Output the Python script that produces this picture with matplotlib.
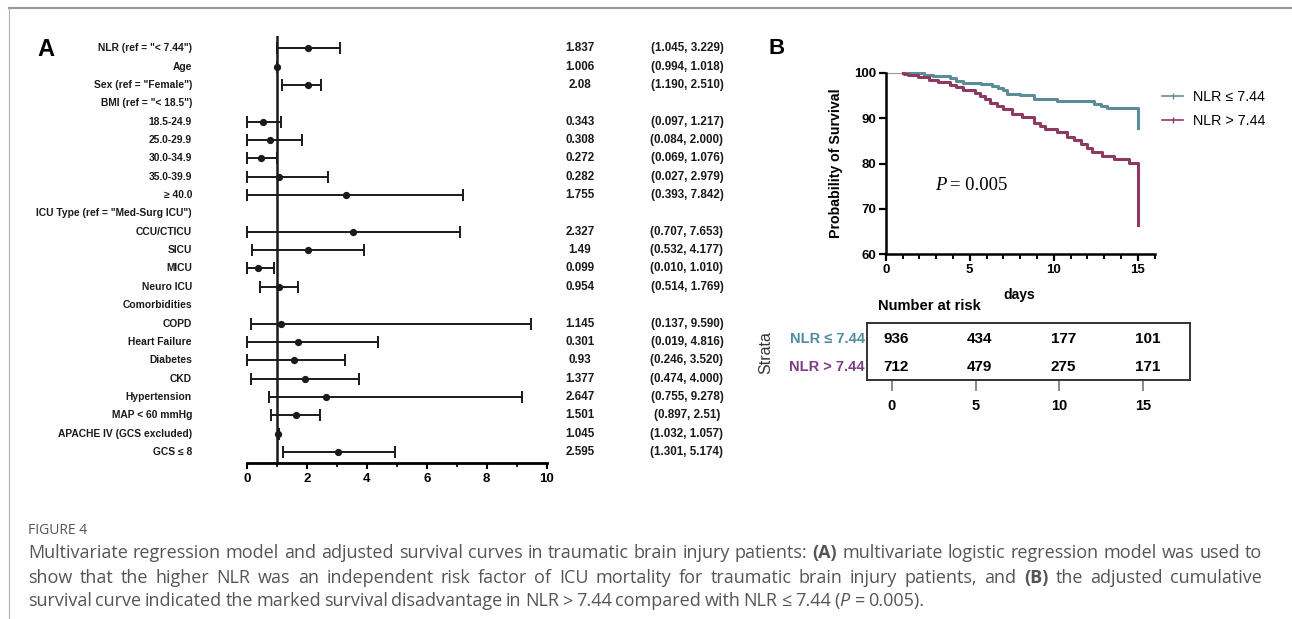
import numpy as np
import matplotlib
matplotlib.use("Agg")
import matplotlib.pyplot as plt
from matplotlib.lines import Line2D
from matplotlib.transforms import blended_transform_factory

W, H = 1292, 619

# Panel A - forest plot (None = header row)
labels = [
    'NLR (ref = "< 7.44")', "Age", 'Sex (ref = "Female")', 'BMI (ref = "< 18.5")',
    "18.5-24.9", "25.0-29.9", "30.0-34.9", "35.0-39.9", "≥ 40.0",
    'ICU Type (ref = "Med-Surg ICU")', "CCU/CTICU", "SICU", "MICU", "Neuro ICU",
    "Comorbidities", "COPD", "Heart Failure", "Diabetes", "CKD", "Hypertension",
    "MAP < 60 mmHg", "APACHE IV (GCS excluded)", "GCS ≤ 8",
]
or_text = [
    "1.837", "1.006", "2.08", "", "0.343", "0.308", "0.272", "0.282", "1.755",
    "", "2.327", "1.49", "0.099", "0.954", "", "1.145", "0.301", "0.93",
    "1.377", "2.647", "1.501", "1.045", "2.595",
]
ci_text = [
    "(1.045, 3.229)", "(0.994, 1.018)", "(1.190, 2.510)", "", "(0.097, 1.217)",
    "(0.084, 2.000)", "(0.069, 1.076)", "(0.027, 2.979)", "(0.393, 7.842)", "",
    "(0.707, 7.653)", "(0.532, 4.177)", "(0.010, 1.010)", "(0.514, 1.769)", "",
    "(0.137, 9.590)", "(0.019, 4.816)", "(0.246, 3.520)", "(0.474, 4.000)",
    "(0.755, 9.278)", "(0.897, 2.51)", "(1.032, 1.057)", "(1.301, 5.174)",
]
# positions of the drawn marks
point = [2.05, 1.0, 2.05, None, 0.55, 0.79, 0.48, 1.09, 3.3, None, 3.53, 2.05,
         0.39, 1.08, None, 1.14, 1.7, 1.56, 1.93, 2.63, 1.63, 1.04, 3.05]
ci_lo = [1.01, 0.994, 1.19, None, 0, 0, 0, 0, 0, None, 0, 0.19,
         0, 0.45, None, 0.14, 0, 0, 0.13, 0.75, 0.82, 1.03, 1.2]
ci_hi = [3.12, 1.018, 2.49, None, 1.13, 1.83, 1.0, 2.71, 7.21, None, 7.11, 3.92,
         0.92, 1.71, None, 9.48, 4.37, 3.28, 3.74, 9.17, 2.43, 1.06, 4.95]

# Panel B - adjusted survival curves (follow-up starts at day 1)
days_low = [1.0, 1.6, 2.3, 2.8, 3.8, 4.2, 4.6, 5.7, 6.3, 6.7, 7.0, 7.2, 8.0, 8.8,
            10.2, 12.4, 12.8, 13.2, 15.0]
surv_low = [100, 99.85, 99.6, 99.2, 98.75, 98.2, 97.8, 97.5, 97.0, 96.6, 96.2,
            95.4, 95.1, 94.3, 93.8, 93.2, 92.7, 92.2, 87.8]
days_high = [1.0, 1.1, 1.3, 1.9, 2.6, 3.1, 3.8, 4.2, 4.6, 5.3, 5.6, 5.9, 6.2, 6.6,
             7.0, 7.5, 8.1, 8.8, 9.2, 9.5, 10.2, 10.8, 11.2, 11.6, 12.0, 12.3,
             12.9, 13.6, 14.5, 15.0]
surv_high = [100, 99.8, 99.5, 99.0, 98.5, 97.9, 97.3, 96.8, 96.2, 95.6, 94.9,
             94.2, 93.3, 92.6, 92.0, 91.0, 90.2, 89.0, 88.3, 87.5, 87.0, 85.8,
             85.2, 84.3, 83.5, 82.6, 81.6, 80.9, 80.2, 66.5]
risk_days = [0, 5, 10, 15]
risk_low = [936, 434, 177, 101]
risk_high = [712, 479, 275, 171]
strata = ["NLR ≤ 7.44", "NLR > 7.44"]

caption_title = "FIGURE 4"
caption_lines = [
    "Multivariate regression model and adjusted survival curves in traumatic brain "
    "injury patients: (A) multivariate logistic regression model was used to",
    "show that the higher NLR was an independent risk factor of ICU mortality for "
    "traumatic brain injury patients, and (B) the adjusted cumulative",
    "survival curve indicated the marked survival disadvantage in NLR > 7.44 "
    "compared with NLR ≤ 7.44 ($P$ = 0.005).",
]

TEAL = "#5b8d99"
MAROON = "#8e3a60"
TEAL_TXT = "#4f8da0"
PURPLE_TXT = "#7c3f84"
INK = "#1a1a1a"

plt.rcParams["font.family"] = ["Liberation Sans", "DejaVu Sans"]
# italic P inside the caption
plt.rcParams["mathtext.fontset"] = "custom"
plt.rcParams["mathtext.it"] = "Open Sans:italic"
plt.rcParams["mathtext.rm"] = "Open Sans"


def fx(x):
    return x / W


def fy(y):
    return 1 - y / H


fig = plt.figure(figsize=(W / 100, H / 100), dpi=100)

# frame of the figure box
fig.add_artist(Line2D([fx(9), 1], [fy(8), fy(8)], color="#9a9a9a", lw=1.6))
fig.add_artist(Line2D([fx(9), fx(9)], [0, fy(8)], color="#b0b0b0", lw=0.8))

# ---- Panel A ----
ax = fig.add_axes([fx(246.7), fy(463), 300 / W, 427 / H])
rows = np.arange(len(labels))
pt = np.array([np.nan if v is None else v for v in point])
lo = np.array([np.nan if v is None else v for v in ci_lo])
hi = np.array([np.nan if v is None else v for v in ci_hi])
ax.axvline(1, color=INK, lw=1.8, zorder=1)
ax.errorbar(pt, rows, xerr=[pt - lo, hi - pt], fmt="o", color=INK, ms=4.2,
            capsize=4, elinewidth=1.4, capthick=1.4, clip_on=False, zorder=3)
ax.set_xlim(0, 10)
ax.set_ylim(22.6, -0.67)
ax.set_xticks(range(0, 11, 2))
ax.set_xticks(range(0, 11), minor=True)
ax.set_yticks([])
for s in ["left", "top", "right"]:
    ax.spines[s].set_visible(False)
ax.spines["bottom"].set_linewidth(2)
ax.tick_params(axis="x", which="major", length=4, width=1.5, pad=3, labelsize=9.5)
ax.tick_params(axis="x", which="minor", length=3, width=1.2)
for t in ax.get_xticklabels():
    t.set_fontweight("bold")

tr = blended_transform_factory(fig.transFigure, ax.transData)
for i, lab in enumerate(labels):
    ax.text(fx(192), i, lab, transform=tr, ha="right", va="center",
            fontsize=7.4, fontweight="bold", color=INK)
    ax.text(fx(580), i, or_text[i], transform=tr, ha="center", va="center",
            fontsize=8.4, fontweight="bold", color=INK)
    ax.text(fx(687), i, ci_text[i], transform=tr, ha="center", va="center",
            fontsize=8.4, fontweight="bold", color=INK)

fig.text(fx(37), fy(50), "A", fontsize=17, fontweight="bold", va="center")
fig.text(fx(769), fy(48), "B", fontsize=16, fontweight="bold", va="center")

# ---- Panel B: survival curves ----
ax2 = fig.add_axes([fx(885.7), fy(254.3), 268.8 / W, 181.6 / H])
ax2.plot([0, days_low[0]], [surv_low[0], surv_low[0]], color="#9a9a9a", lw=0.8,
         clip_on=False)
ax2.step(days_low, surv_low, where="post", color=TEAL, lw=2.2, clip_on=False)
ax2.step(days_high, surv_high, where="post", color=MAROON, lw=2.2, clip_on=False)
ax2.set_xlim(0, 16)
ax2.set_ylim(60, 100)
ax2.set_xticks([0, 5, 10, 15])
ax2.set_xticks(range(0, 17), minor=True)
ax2.set_yticks(range(60, 101, 10))
for s in ["top", "right"]:
    ax2.spines[s].set_visible(False)
for s in ["left", "bottom"]:
    ax2.spines[s].set_linewidth(1.8)
ax2.tick_params(which="major", length=5, width=1.6, labelsize=9.5, pad=2)
ax2.tick_params(which="minor", length=3.5, width=1.4)
for t in ax2.get_xticklabels() + ax2.get_yticklabels():
    t.set_fontweight("bold")
fig.text(fx(836), fy(163), "Probability of Survival", rotation=90, ha="center",
         va="center", fontsize=10.2, fontweight="bold")
fig.text(fx(1019), fy(295), "days", ha="center", va="center", fontsize=10,
         fontweight="bold")
# P value: italic P + upright text, Times-like
fig.text(fx(941), fy(185), "P", ha="center", va="center", fontsize=13.4,
         family="Liberation Serif", style="italic")
fig.text(fx(950), fy(185), "= 0.005", ha="left", va="center", fontsize=13.4,
         family="Liberation Serif")

handles = [Line2D([], [], color=TEAL, lw=1.2, marker="|", ms=5),
           Line2D([], [], color=MAROON, lw=1.2, marker="|", ms=5)]
fig.legend(handles, strata, loc="upper left", bbox_to_anchor=(fx(1162), fy(90)),
           frameon=False, fontsize=10.3, handlelength=1.5, handletextpad=0.7,
           labelspacing=0.72, borderaxespad=0, borderpad=0)

# ---- Panel B: number at risk ----
ax3 = fig.add_axes([fx(867), fy(380), 323 / W, 57 / H])
ax3.set_xlim(-1.49, 17.8)
ax3.set_ylim(-0.464, 1.571)
for d, a, b in zip(risk_days, risk_low, risk_high):
    ax3.text(d + 0.25, 1, str(a), ha="center", va="center", fontsize=11,
             fontweight="bold")
    ax3.text(d + 0.25, 0, str(b), ha="center", va="center", fontsize=11,
             fontweight="bold")
ax3.set_yticks([])
ax3.set_xticks(risk_days)
for s in ax3.spines.values():
    s.set_linewidth(1.4)
    s.set_color("#333333")
ax3.tick_params(axis="x", length=8, width=1.2, pad=6, labelsize=10.5,
                color="#777777")
for t in ax3.get_xticklabels():
    t.set_fontweight("bold")
fig.text(fx(878), fy(306), "Number at risk", ha="left", va="center",
         fontsize=10.5, fontweight="bold")
fig.text(fx(865), fy(339), strata[0], ha="right", va="center", fontsize=10.5,
         fontweight="bold", color=TEAL_TXT)
fig.text(fx(865), fy(367), strata[1], ha="right", va="center", fontsize=10.5,
         fontweight="bold", color=PURPLE_TXT)
fig.text(fx(766), fy(353), "Strata", rotation=90, ha="center", va="center",
         fontsize=11.5, color="#333333")

# ---- caption ----
cap_kw = dict(color="#555555", fontsize=13.0, family=["Open Sans", "DejaVu Sans"])
fig.text(fx(28), fy(530), caption_title, va="center", fontsize=10,
         color="#555555", family=["Open Sans", "DejaVu Sans"])

renderer = fig.canvas.get_renderer()


def justify_line(text, y, x0, x1, justify=True):
    words = text.split(" ")
    arts = []
    for w in words:
        weight = "bold" if w in ("(A)", "(B)") else "normal"
        arts.append(fig.text(0, fy(y), w, va="baseline", fontweight=weight, **cap_kw))
    widths = [a.get_window_extent(renderer).width for a in arts]
    space = arts[0].get_fontsize() * 0.26
    gap = (x1 - x0 - sum(widths)) / (len(words) - 1) if justify else space
    gap = max(gap, 2)
    x = x0
    for a, w in zip(arts, widths):
        a.set_x(fx(x))
        x += w + gap


for k, line in enumerate(caption_lines):
    justify_line(line, [558, 583, 606][k], 28, 1262, justify=k < 2)

fig.savefig("out.png", dpi=100)
